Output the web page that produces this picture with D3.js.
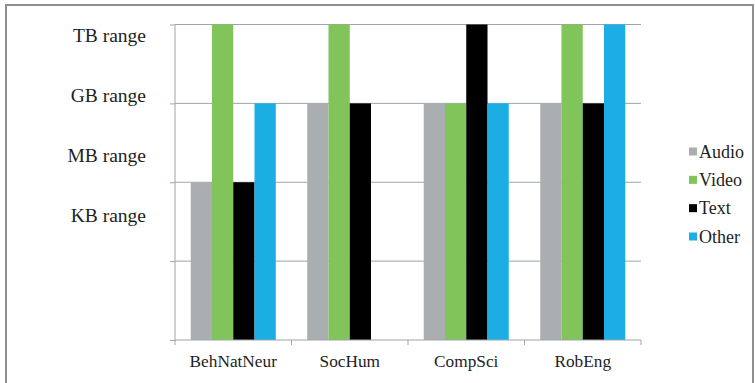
<!DOCTYPE html>
<html>
<head>
<meta charset="utf-8">
<script src="https://cdn.jsdelivr.net/npm/d3@7"></script>
<style>
  html, body { margin: 0; padding: 0; background: #fff; }
  svg { display: block; }
</style>
</head>
<body>
<svg id="chart" width="755" height="383"></svg>
<script>
// Disciplines along the x axis
const categories = ["BehNatNeur", "SocHum", "CompSci", "RobEng"];
// Data types shown as grouped bars
const series = ["Audio", "Video", "Text", "Other"];
// Size level per data type (0 = none, 1..4 grid steps up to TB range)
const audioLevels = [2, 3, 3, 3];
const videoLevels = [4, 4, 3, 4];
const textLevels  = [2, 3, 4, 3];
const otherLevels = [3, 0, 3, 4];
// Size range labels down the left side
const rangeLabels = ["TB range", "GB range", "MB range", "KB range"];
const gridLevels = [0, 1, 2, 3, 4];

const colors = {
  Audio: "#abaeb0",
  Video: "#80c45a",
  Text:  "#000000",
  Other: "#1baee4"
};

const serif = "'Liberation Serif', 'Times New Roman', serif";
const textColor = "#1e1e1e";

const levels = { Audio: audioLevels, Video: videoLevels, Text: textLevels, Other: otherLevels };
const rows = categories.map((c, i) => ({
  category: c,
  values: series.map(s => ({ key: s, value: levels[s][i] }))
}));

const svg = d3.select("#chart");

// Outer frame
svg.append("rect")
  .attr("x", 6).attr("y", 5)
  .attr("width", 747).attr("height", 400)
  .attr("fill", "none")
  .attr("stroke", "#8e8e8e")
  .attr("stroke-width", 2);

const plot = { left: 175, right: 641, top: 24.5, bottom: 340 };

const x0 = d3.scaleBand()
  .domain(categories)
  .range([plot.left, plot.right])
  .paddingInner(0).paddingOuter(0);

const x1 = d3.scaleBand()
  .domain(series)
  .range([0, x0.bandwidth()])
  .paddingInner(0)
  .paddingOuter(0.74);

const y = d3.scaleLinear()
  .domain([0, 4])
  .range([plot.bottom, plot.top]);

const gridColor = "#9da5ab";

// Horizontal gridlines
svg.append("g")
  .selectAll("line")
  .data(gridLevels.filter(d => d > 0))
  .join("line")
  .attr("x1", plot.left).attr("x2", plot.right)
  .attr("y1", d => y(d)).attr("y2", d => y(d))
  .attr("stroke", gridColor)
  .attr("stroke-width", 1);

// Bars
svg.append("g")
  .selectAll("g")
  .data(rows)
  .join("g")
  .attr("transform", d => `translate(${x0(d.category)},0)`)
  .selectAll("rect")
  .data(d => d.values)
  .join("rect")
  .attr("x", d => x1(d.key))
  .attr("y", d => y(d.value))
  .attr("width", x1.bandwidth())
  .attr("height", d => y(0) - y(d.value))
  .attr("fill", d => colors[d.key]);

// Left axis (ticks only, no numeric labels)
const yAxis = svg.append("g")
  .attr("transform", `translate(${plot.left},0)`)
  .call(d3.axisLeft(y).tickValues(gridLevels).tickSize(5).tickFormat(""));
yAxis.select(".domain").attr("stroke", gridColor).attr("d", `M0,${plot.top}V${plot.bottom}`);
yAxis.selectAll(".tick line").attr("stroke", gridColor);

// Bottom axis: labels centered under groups, ticks on group boundaries
const xAxis = svg.append("g")
  .attr("transform", `translate(0,${plot.bottom})`)
  .attr("font-family", serif)
  .call(d3.axisBottom(x0).tickSize(0).tickPadding(15));
xAxis.attr("font-family", serif).attr("font-size", 17.3);
xAxis.select(".domain").attr("stroke", gridColor).attr("d", `M${plot.left},0H${plot.right}`);
xAxis.selectAll(".tick text")
  .style("font-family", serif)
  .style("font-size", "17.3px")
  .attr("fill", textColor);

const boundaries = categories.map(c => x0(c) + x0.bandwidth()).concat([x0(categories[0])]);
svg.append("g")
  .selectAll("line")
  .data(boundaries)
  .join("line")
  .attr("x1", d => d).attr("x2", d => d)
  .attr("y1", plot.bottom).attr("y2", plot.bottom + 5)
  .attr("stroke", gridColor);

// Size range labels
const labelY = d3.scalePoint().domain(rangeLabels).range([35, 215]);
svg.append("g")
  .selectAll("text")
  .data(rangeLabels)
  .join("text")
  .attr("x", 146)
  .attr("y", d => labelY(d))
  .attr("dy", "0.35em")
  .attr("text-anchor", "end")
  .attr("fill", textColor)
  .style("font-family", serif)
  .style("font-size", "19.5px")
  .text(d => d);

// Legend
const legendY = d3.scalePoint().domain(series).range([151.5, 236.5]);
const legend = svg.append("g")
  .selectAll("g")
  .data(series)
  .join("g")
  .attr("transform", d => `translate(689,${legendY(d)})`);
legend.append("rect")
  .attr("x", 0).attr("y", -4)
  .attr("width", 8).attr("height", 8)
  .attr("fill", d => colors[d]);
legend.append("text")
  .attr("x", 10)
  .attr("dy", "0.35em")
  .attr("fill", textColor)
  .style("font-family", serif)
  .style("font-size", "18px")
  .text(d => d);
</script>
</body>
</html>
